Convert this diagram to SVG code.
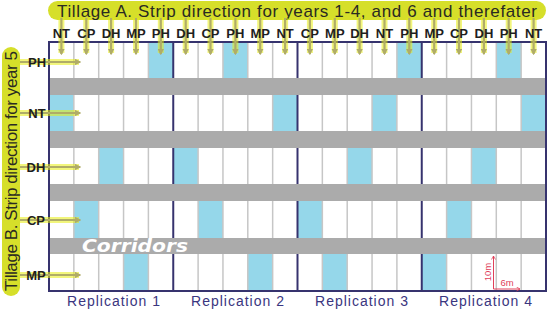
<svg xmlns="http://www.w3.org/2000/svg" width="550" height="311" viewBox="0 0 550 311">
<defs>
<style>
.cell{fill:#ffffff}
.blue{fill:#95d7ea}
.band{fill:#ababab}
.vl{stroke:#c6c6c6;stroke-width:1.5}
.rl{stroke:#36336e;stroke-width:2}
.pill{fill:#d6df2a}
.lbl{font-family:"Liberation Sans",Arial,sans-serif;font-weight:bold;font-size:13px;fill:#1e1e1e;text-anchor:middle}
.title{font-family:"Liberation Sans",Arial,sans-serif;font-size:17px;fill:#2a2a22}
.rep{font-family:"Liberation Sans",Arial,sans-serif;font-size:14px;letter-spacing:1px;fill:#3a3680;text-anchor:middle}
.glow{stroke:#e8ef10;stroke-opacity:0.55;stroke-width:6;fill:none}
.arr{stroke:#b0ac68;stroke-width:2.2;fill:none}
.scale{stroke:#e0405a;stroke-width:1;fill:none}
.scaletxt{font-family:"Liberation Sans",Arial,sans-serif;font-size:9.5px;fill:#e0405a}
</style>
<marker id="ah" viewBox="0 0 10 10" refX="8" refY="5" markerWidth="3" markerHeight="3" orient="auto">
<path d="M0,0 L10,5 L0,10 z" fill="#b0ac68"/>
</marker>
<marker id="sh" viewBox="0 0 10 10" refX="9" refY="5" markerWidth="5" markerHeight="5" orient="auto">
<path d="M2,1 L9,5 L2,9" fill="none" stroke="#e0405a" stroke-width="1.5"/>
</marker>
</defs>
<rect width="550" height="311" fill="#ffffff"/>

<g id="header">
<rect class="pill" x="48" y="1" width="498" height="19" rx="9.5"/>
<text class="title" x="297" y="16.5" text-anchor="middle" textLength="480" lengthAdjust="spacing">Tillage A. Strip direction for years 1-4, and 6 and therefater</text>
</g>

<g id="side-header">
<rect class="pill" x="2" y="47" width="18" height="249" rx="9"/>
<text class="title" transform="translate(16.5,171) rotate(-90)" text-anchor="middle" font-size="15" textLength="240" lengthAdjust="spacing">Tillage B. Strip direction for year 5</text>
</g>

<g id="grid">
<rect x="49" y="42" width="497" height="249" fill="#ffffff"/>
<g id="blue-cells">
<rect class="blue" x="148.4" y="42" width="24.85" height="36"/>
<rect class="blue" x="222.95" y="42" width="24.85" height="36"/>
<rect class="blue" x="396.9" y="42" width="24.85" height="36"/>
<rect class="blue" x="496.3" y="42" width="24.85" height="36"/>
<rect class="blue" x="49" y="95" width="24.85" height="36"/>
<rect class="blue" x="272.65" y="95" width="24.85" height="36"/>
<rect class="blue" x="372.05" y="95" width="24.85" height="36"/>
<rect class="blue" x="521.15" y="95" width="24.85" height="36"/>
<rect class="blue" x="98.7" y="148" width="24.85" height="36"/>
<rect class="blue" x="173.25" y="148" width="24.85" height="36"/>
<rect class="blue" x="347.2" y="148" width="24.85" height="36"/>
<rect class="blue" x="471.45" y="148" width="24.85" height="36"/>
<rect class="blue" x="73.85" y="201" width="24.85" height="37"/>
<rect class="blue" x="198.1" y="201" width="24.85" height="37"/>
<rect class="blue" x="297.5" y="201" width="24.85" height="37"/>
<rect class="blue" x="446.6" y="201" width="24.85" height="37"/>
<rect class="blue" x="123.55" y="254" width="24.85" height="37"/>
<rect class="blue" x="247.8" y="254" width="24.85" height="37"/>
<rect class="blue" x="322.35" y="254" width="24.85" height="37"/>
<rect class="blue" x="421.75" y="254" width="24.85" height="37"/>
</g>
<g id="column-lines">
<line class="vl" x1="73.85" y1="42" x2="73.85" y2="291"/>
<line class="vl" x1="98.7" y1="42" x2="98.7" y2="291"/>
<line class="vl" x1="123.55" y1="42" x2="123.55" y2="291"/>
<line class="vl" x1="148.4" y1="42" x2="148.4" y2="291"/>
<line class="vl" x1="198.1" y1="42" x2="198.1" y2="291"/>
<line class="vl" x1="222.95" y1="42" x2="222.95" y2="291"/>
<line class="vl" x1="247.8" y1="42" x2="247.8" y2="291"/>
<line class="vl" x1="272.65" y1="42" x2="272.65" y2="291"/>
<line class="vl" x1="322.35" y1="42" x2="322.35" y2="291"/>
<line class="vl" x1="347.2" y1="42" x2="347.2" y2="291"/>
<line class="vl" x1="372.05" y1="42" x2="372.05" y2="291"/>
<line class="vl" x1="396.9" y1="42" x2="396.9" y2="291"/>
<line class="vl" x1="446.6" y1="42" x2="446.6" y2="291"/>
<line class="vl" x1="471.45" y1="42" x2="471.45" y2="291"/>
<line class="vl" x1="496.3" y1="42" x2="496.3" y2="291"/>
<line class="vl" x1="521.15" y1="42" x2="521.15" y2="291"/>
<line class="rl" x1="173.25" y1="42" x2="173.25" y2="291"/>
<line class="rl" x1="297.5" y1="42" x2="297.5" y2="291"/>
<line class="rl" x1="421.75" y1="42" x2="421.75" y2="291"/>
</g>
<g id="corridors">
<rect class="band" x="49" y="78" width="497" height="17"/>
<rect class="band" x="49" y="131" width="497" height="17"/>
<rect class="band" x="49" y="184" width="497" height="17"/>
<rect class="band" x="49" y="238" width="497" height="16"/>
<text x="82" y="252" font-family="DejaVu Sans,Verdana,sans-serif" font-weight="bold" font-style="italic" font-size="18" fill="#ffffff" textLength="106" lengthAdjust="spacingAndGlyphs">Corridors</text>
</g>
<rect x="49" y="42" width="497" height="249" fill="none" stroke="#36336e" stroke-width="2"/>
</g>

<g id="connectors">
<g id="vertical-arrows">
<path class="glow" d="M61.4,18V53M86.3,18V53M111.1,18V53M136,18V53M160.8,18V53M185.7,18V53M210.5,18V53M235.4,18V53M260.2,18V53M285.1,18V53M309.9,18V53M334.8,18V53M359.6,18V53M384.5,18V53M409.3,18V53M434.2,18V53M459,18V53M483.9,18V53M508.7,18V53M533.6,18V53"/>
<line class="arr" marker-end="url(#ah)" x1="61.4" y1="18" x2="61.4" y2="54"/>
<line class="arr" marker-end="url(#ah)" x1="86.3" y1="18" x2="86.3" y2="54"/>
<line class="arr" marker-end="url(#ah)" x1="111.1" y1="18" x2="111.1" y2="54"/>
<line class="arr" marker-end="url(#ah)" x1="136" y1="18" x2="136" y2="54"/>
<line class="arr" marker-end="url(#ah)" x1="160.8" y1="18" x2="160.8" y2="54"/>
<line class="arr" marker-end="url(#ah)" x1="185.7" y1="18" x2="185.7" y2="54"/>
<line class="arr" marker-end="url(#ah)" x1="210.5" y1="18" x2="210.5" y2="54"/>
<line class="arr" marker-end="url(#ah)" x1="235.4" y1="18" x2="235.4" y2="54"/>
<line class="arr" marker-end="url(#ah)" x1="260.2" y1="18" x2="260.2" y2="54"/>
<line class="arr" marker-end="url(#ah)" x1="285.1" y1="18" x2="285.1" y2="54"/>
<line class="arr" marker-end="url(#ah)" x1="309.9" y1="18" x2="309.9" y2="54"/>
<line class="arr" marker-end="url(#ah)" x1="334.8" y1="18" x2="334.8" y2="54"/>
<line class="arr" marker-end="url(#ah)" x1="359.6" y1="18" x2="359.6" y2="54"/>
<line class="arr" marker-end="url(#ah)" x1="384.5" y1="18" x2="384.5" y2="54"/>
<line class="arr" marker-end="url(#ah)" x1="409.3" y1="18" x2="409.3" y2="54"/>
<line class="arr" marker-end="url(#ah)" x1="434.2" y1="18" x2="434.2" y2="54"/>
<line class="arr" marker-end="url(#ah)" x1="459" y1="18" x2="459" y2="54"/>
<line class="arr" marker-end="url(#ah)" x1="483.9" y1="18" x2="483.9" y2="54"/>
<line class="arr" marker-end="url(#ah)" x1="508.7" y1="18" x2="508.7" y2="54"/>
<line class="arr" marker-end="url(#ah)" x1="533.6" y1="18" x2="533.6" y2="54"/>
</g>
<g id="horizontal-arrows">
<path class="glow" d="M20,62H79M20,113H79M20,167H79M20,220H79M20,275H79"/>
<line class="arr" marker-end="url(#ah)" x1="20" y1="62" x2="80" y2="62"/>
<line class="arr" marker-end="url(#ah)" x1="20" y1="113" x2="80" y2="113"/>
<line class="arr" marker-end="url(#ah)" x1="20" y1="167" x2="80" y2="167"/>
<line class="arr" marker-end="url(#ah)" x1="20" y1="220" x2="80" y2="220"/>
<line class="arr" marker-end="url(#ah)" x1="20" y1="275" x2="80" y2="275"/>
</g>
</g>

<g id="column-labels">
<text class="lbl" x="61.4" y="38">NT</text>
<text class="lbl" x="86.3" y="38">CP</text>
<text class="lbl" x="111.1" y="38">DH</text>
<text class="lbl" x="136" y="38">MP</text>
<text class="lbl" x="160.8" y="38">PH</text>
<text class="lbl" x="185.7" y="38">DH</text>
<text class="lbl" x="210.5" y="38">CP</text>
<text class="lbl" x="235.4" y="38">PH</text>
<text class="lbl" x="260.2" y="38">MP</text>
<text class="lbl" x="285.1" y="38">NT</text>
<text class="lbl" x="309.9" y="38">CP</text>
<text class="lbl" x="334.8" y="38">MP</text>
<text class="lbl" x="359.6" y="38">DH</text>
<text class="lbl" x="384.5" y="38">NT</text>
<text class="lbl" x="409.3" y="38">PH</text>
<text class="lbl" x="434.2" y="38">MP</text>
<text class="lbl" x="459" y="38">CP</text>
<text class="lbl" x="483.9" y="38">DH</text>
<text class="lbl" x="508.7" y="38">PH</text>
<text class="lbl" x="533.6" y="38">NT</text>
</g>

<g id="row-labels">
<text class="lbl" x="37" y="66.5">PH</text>
<text class="lbl" x="37" y="117.5">NT</text>
<text class="lbl" x="36" y="171.5">DH</text>
<text class="lbl" x="36" y="224.5">CP</text>
<text class="lbl" x="36" y="279.5">MP</text>
</g>

<g id="replications">
<text class="rep" x="114" y="306">Replication 1</text>
<text class="rep" x="238" y="306">Replication 2</text>
<text class="rep" x="362" y="306">Replication 3</text>
<text class="rep" x="486" y="306">Replication 4</text>
</g>

<g id="scale">
<line class="scale" x1="493.5" y1="289" x2="493.5" y2="256" marker-end="url(#sh)"/>
<line class="scale" x1="493.5" y1="289" x2="520" y2="289" marker-end="url(#sh)"/>
<text class="scaletxt" transform="translate(491,272) rotate(-90)" text-anchor="middle">10m</text>
<text class="scaletxt" x="507" y="286" text-anchor="middle">6m</text>
</g>
</svg>
